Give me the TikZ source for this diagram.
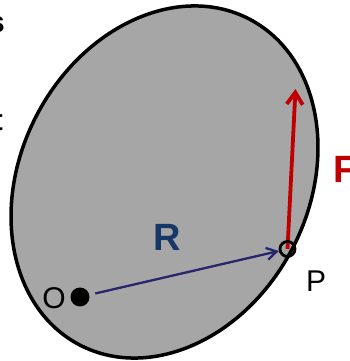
\documentclass[tikz,border=0pt]{standalone}
\usepackage{fontspec}
\setmainfont{Liberation Sans}
\usepackage{xcolor}
\usetikzlibrary{arrows.meta,positioning,calc}
\definecolor{blobgray}{RGB}{166,166,166}
\definecolor{rnavy}{RGB}{38,38,110}
\definecolor{rtext}{RGB}{23,55,104}
\definecolor{fred}{RGB}{192,0,0}
\pgfdeclarelayer{bg}
\pgfsetlayers{bg,main}

\begin{document}
\begin{tikzpicture}[
  x=1pt,y=1pt,
  lbl/.style={font=\fontsize{30}{36}\selectfont,inner sep=0pt},
  big/.style={font=\fontsize{38}{44}\selectfont\bfseries,inner sep=0pt},
  blob/.style={draw,line width=3.5pt,fill=blobgray},
  dot/.style={circle,fill=black,minimum size=19pt,inner sep=0pt},
  ring/.style={circle,draw,line width=2.8pt,minimum size=15pt,inner sep=0pt},
  rarr/.style={-{Straight Barb[length=10pt,width=12pt]},line width=2.3pt,rnavy},
  farr/.style={-{Straight Barb[length=12pt,width=16pt]},line width=3.8pt,fred},
]
\useasboundingbox (0,0) rectangle (350,361);
\node[dot] (o) at (80,64) {};
\node[ring] (p) at (287.5,112) {};
\coordinate (ftip) at (295.5,272);
\node[lbl] (olbl) at (54,63) {O};
\node[lbl] (plbl) at (316,80) {P};
\node[big,rtext] (rlbl) at (167,124) {R};
\node[big,fred,anchor=west] (flbl) at (333,192) {F};
\node[lbl,font=\fontsize{30}{36}\selectfont\bfseries,anchor=base east] (s) at (5,328) {s};
\node[lbl,font=\fontsize{30}{36}\selectfont\bfseries,anchor=base east] (t) at (3,230) {t};
\begin{pgfonlayer}{bg}
\draw[blob] (164.5,179) ellipse [x radius=183.7,y radius=144.2,rotate=62.5];
\draw[rarr,shorten <=6pt] (o)--(p);
\draw[farr] (p.center)--(ftip);
\end{pgfonlayer}
\end{tikzpicture}
\end{document}
